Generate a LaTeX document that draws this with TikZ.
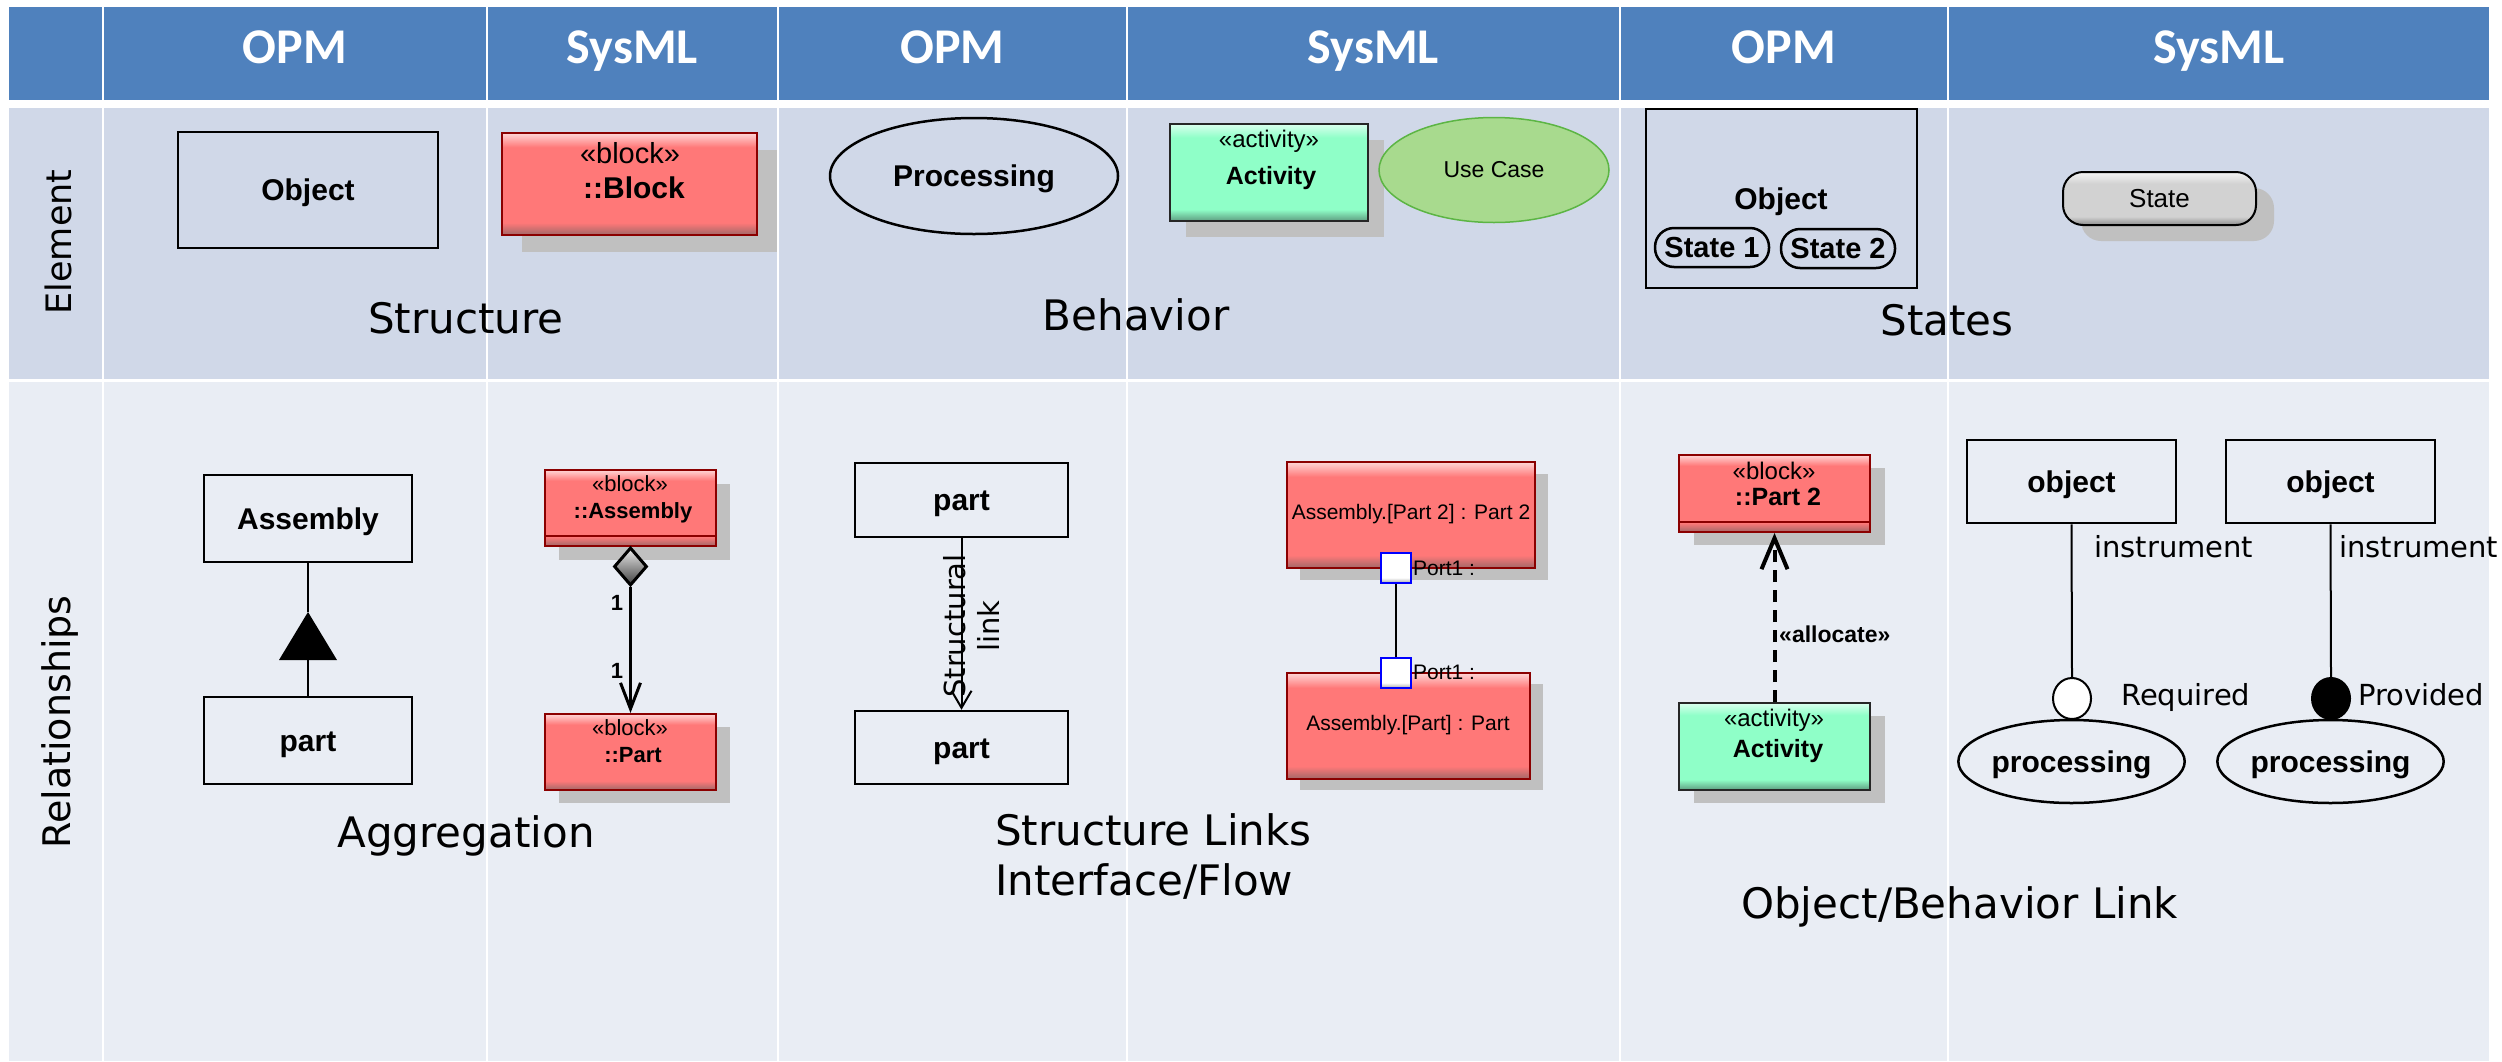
\documentclass[tikz,border=0pt]{standalone}
\usepackage{fontspec}
\setmainfont{Liberation Sans}
\newfontfamily\hdrfont{Carlito}
\newfontfamily\dvfont{DejaVu Sans}
\usetikzlibrary{shapes.geometric,arrows.meta,shadows}
\newcommand{\myfs}[1]{\fontsize{#1}{#1}\selectfont}

% table colours
\definecolor{hdrblue}{HTML}{4F81BD}
\definecolor{eltrow}{HTML}{D0D8E8}
\definecolor{relrow}{HTML}{E9EDF4}
% SysML element fills
\definecolor{rtop}{HTML}{FFD6D6}
\definecolor{rmid}{HTML}{FF7878}
\definecolor{rbot}{HTML}{A06868}
\definecolor{blkred}{HTML}{8B0000}
\definecolor{gtop}{HTML}{DAFFEE}
\definecolor{gmid}{HTML}{8FFFC8}
\definecolor{gbot}{HTML}{5E9C80}
\definecolor{sttop}{HTML}{F4F4F4}
\definecolor{stmid}{HTML}{D2D2D2}
\definecolor{stbot}{HTML}{8C8C8C}
\definecolor{ptop}{HTML}{FFFFFF}
\definecolor{pbot}{HTML}{A8A8A8}
\definecolor{shadowgray}{HTML}{C0C0C0}
\definecolor{ucfill}{HTML}{A8DA8E}
\definecolor{ucborder}{HTML}{5CB544}
\definecolor{portblue}{HTML}{0000FF}

% bevelled fills: the path box spans 25bp..75bp of each shading
\pgfdeclareverticalshading{redbevel}{100bp}{color(0bp)=(rbot); color(25bp)=(rbot); color(31bp)=(rmid); color(68bp)=(rmid); color(75bp)=(rtop); color(100bp)=(rtop)}
\pgfdeclareverticalshading{greenbevel}{100bp}{color(0bp)=(gbot); color(25bp)=(gbot); color(31bp)=(gmid); color(68bp)=(gmid); color(75bp)=(gtop); color(100bp)=(gtop)}
\pgfdeclareverticalshading{greybevel}{100bp}{color(0bp)=(stbot); color(25bp)=(stbot); color(33bp)=(stmid); color(64bp)=(stmid); color(75bp)=(sttop); color(100bp)=(sttop)}
\pgfdeclareverticalshading{portbevel}{100bp}{color(0bp)=(pbot); color(25bp)=(pbot); color(34bp)=(ptop); color(100bp)=(ptop)}

\begin{document}
\begin{tikzpicture}[x=1pt,y=-1pt,
  hdr/.style={font=\hdrfont\bfseries\myfs{50}, text=white, anchor=base, inner sep=0},
  rowlbl/.style={font=\dvfont\myfs{#1}, rotate=90, inner sep=0},
  seclbl/.style={font=\dvfont\myfs{42}, anchor=base, inner sep=0},
  smalllbl/.style={font=\dvfont\myfs{29}, anchor=base west, inner sep=0},
  opmbox/.style={draw, line width=2.5pt, inner sep=0, font=\bfseries\myfs{30}, text height=21.6pt, text depth=0pt},
  opmell/.style={ellipse, draw, line width=2.5pt, inner sep=0, font=\bfseries\myfs{30}, text height=21.6pt, text depth=0pt},
  opmpill/.style={draw, line width=2.5pt, rounded corners=19pt, inner sep=0, font=\bfseries\myfs{29}, text height=20.9pt, text depth=0pt},
  opmline/.style={line width=2.5pt},
  blkshade/.style 2 args={drop shadow={shadow xshift=#1pt, shadow yshift=-#2pt, fill=shadowgray, opacity=1}},
  redblk/.style={draw=blkred, line width=2pt, shade, shading=redbevel, inner sep=0},
  grnblk/.style={draw=black!85, line width=2pt, shade, shading=greenbevel, inner sep=0},
  stereo/.style={anchor=base, inner sep=0, font=\myfs{#1}},
  sysb/.style={anchor=base, inner sep=0, font=\bfseries\myfs{#1}},
  port/.style={draw=portblue, line width=2pt, shade, shading=portbevel, minimum size=30pt, inner sep=0},
]
\useasboundingbox (0,0) rectangle (2502,1061);
\fill[white] (0,0) rectangle (2502,1061);

% table cells
\foreach \a/\b in {9/102,104/486,488/777,779/1126,1128/1619,1621/1947,1949/2489}{
  \fill[hdrblue] (\a,7) rectangle (\b,100);
  \fill[eltrow] (\a,108) rectangle (\b,379);
  \fill[relrow] (\a,382) rectangle (\b,1061);
}

% column headings
\node[hdr] (h1) at (295,63) {OPM};
\node[hdr] (h2) at (632.5,63) {SysML};
\node[hdr] (h3) at (952.5,63) {OPM};
\node[hdr] (h4) at (1373.5,63) {SysML};
\node[hdr] (h5) at (1784,63) {OPM};
\node[hdr] (h6) at (2219,63) {SysML};

% row headings
\node[rowlbl=35] (rElt) at (58,242) {Element};
\node[rowlbl=38] (rRel) at (60,722) {Relationships};

% ---------- Element row ----------
\node[opmbox, minimum width=260pt, minimum height=116pt] (objE) at (308,190) {Object};

\node[redblk, blkshade={20}{17}, minimum width=255pt, minimum height=102pt] (blkE) at (629.5,184) {};
\node[stereo=29] (blkEst) at (630,163) {«block»};
\node[sysb=30] (blkEnm) at (634,198) {::Block};

\node[opmell, minimum width=288pt, minimum height=116pt] (procE) at (974,176) {Processing};

\node[grnblk, blkshade={16}{16}, minimum width=198pt, minimum height=97pt] (actE) at (1269,172.5) {};
\node[stereo=24] (actEst) at (1269,147) {«activity»};
\node[sysb=25] (actEnm) at (1271,184) {Activity};

\node[ellipse, draw=ucborder, fill=ucfill, line width=1.5pt, inner sep=0, minimum width=230pt, minimum height=105pt, font=\myfs{23}] (uc) at (1494,170) {Use Case};

\node[opmbox, minimum width=271pt, minimum height=179pt] (stObj) at (1781.5,198.5) {};
\node[sysb=30] (stObjNm) at (1781,209) {Object};
\node[opmpill, minimum width=114pt, minimum height=39pt] (st1) at (1712,247.5) {State 1};
\node[opmpill, minimum width=114pt, minimum height=39pt] (st2) at (1838,248.5) {State 2};

\node[draw=black, line width=2pt, rounded corners=20pt, shade, shading=greybevel, blkshade={18}{16}, inner sep=0, minimum width=193pt, minimum height=53pt, font=\myfs{26}, text height=18.7pt, text depth=0pt] (stS) at (2159.5,198.5) {State};

\node[seclbl] (lStruct) at (466,333) {Structure};
\node[seclbl] (lBeh) at (1136,330) {Behavior};
\node[seclbl] (lStates) at (1947,335) {States};

% ---------- Relationships row: aggregation ----------
\node[opmbox, minimum width=208pt, minimum height=87pt] (asm) at (308,518.5) {Assembly};
\node[opmbox, minimum width=208pt, minimum height=87pt] (partA) at (308,740.5) {part};
\coordinate (triApex) at (308,612);
\coordinate (triBase) at (308,660);
\fill (triApex) -- (279,660) -- (337,660) -- cycle;
\draw[opmline] (asm.south) -- (triApex);
\draw[opmline] (triBase) -- (partA.north);

\node[redblk, blkshade={14}{14}, minimum width=171pt, minimum height=76pt] (blkAsm) at (630.5,508) {};
\draw[blkred, line width=2pt] ([yshift=-28pt]blkAsm.west) -- ([yshift=-28pt]blkAsm.east);
\node[stereo=22] (blkAsmSt) at (630,491) {«block»};
\node[sysb=22] (blkAsmNm) at (633,518) {::Assembly};

\node[diamond, draw=black, line width=3pt, top color=gray!15, bottom color=black!75, inner sep=0, minimum width=33pt, minimum height=38pt, anchor=north] (dia) at (630.5,546) {};

\node[redblk, blkshade={14}{13}, minimum width=171pt, minimum height=76pt] (blkPart) at (630.5,752) {};
\node[stereo=22] (blkPartSt) at (630,735) {«block»};
\node[sysb=22] (blkPartNm) at (633,762) {::Part};

\draw[line width=3pt, -{Straight Barb[length=26pt, width=20pt]}] (dia.south) -- (blkPart.north);
\node[sysb=22] (m1) at (617,610) {1};
\node[sysb=22] (m2) at (617,678) {1};

\node[seclbl] (lAgg) at (466,847) {Aggregation};

% ---------- Relationships row: structure links ----------
\node[opmbox, minimum width=213pt, minimum height=74pt] (partS1) at (961.5,500) {part};
\node[opmbox, minimum width=213pt, minimum height=73pt] (partS2) at (961.5,747.5) {part};
\draw[line width=2pt, -{Straight Barb[length=17pt, width=20pt]}] (partS1.south) -- (partS2.north);
\node[rotate=90, align=center, inner sep=0, font=\dvfont\fontsize{29}{34}\selectfont] (slText) at (971,626) {Structural\\link};

\node[redblk, blkshade={13}{12}, minimum width=248pt, minimum height=106pt] (blkP2) at (1411,515) {};
\node[stereo=21] (blkP2Nm) at (1411,519) {Assembly.[Part 2] : Part 2};
\node[redblk, blkshade={13}{11}, minimum width=243pt, minimum height=106pt] (blkP) at (1408.5,726) {};
\node[stereo=21] (blkPNm) at (1408,730) {Assembly.[Part] : Part};
\node[port] (pA) at (1396,568) {};
\node[port] (pB) at (1396,673) {};
\draw[line width=2.5pt] (pA.south) -- (pB.north);
\node[anchor=base west, inner sep=0, font=\myfs{21}] (pAl) at (1413,575) {Port1 :};
\node[anchor=base west, inner sep=0, font=\myfs{21}] (pBl) at (1413,679) {Port1 :};

\node[seclbl, anchor=base west] (lSL) at (995,845) {Structure Links};
\node[seclbl, anchor=base west] (lIF) at (995,895) {Interface/Flow};

% ---------- Relationships row: object / behavior links ----------
\node[redblk, blkshade={15}{13}, minimum width=191pt, minimum height=77pt] (blkPt2) at (1774.5,493.5) {};
\draw[blkred, line width=2pt] ([yshift=-28.5pt]blkPt2.west) -- ([yshift=-28.5pt]blkPt2.east);
\node[stereo=24] (blkPt2St) at (1774,479) {«block»};
\node[sysb=25] (blkPt2Nm) at (1778,505) {::Part 2};

\node[grnblk, blkshade={15}{13}, minimum width=191pt, minimum height=87pt] (actR) at (1774.5,746.5) {};
\node[stereo=24] (actRSt) at (1774,726) {«activity»};
\node[sysb=25] (actRNm) at (1778,757.5) {Activity};

\draw[line width=4pt, dash pattern=on 12pt off 8pt, -{Straight Barb[length=31pt, width=26pt]}] (actR.north) -- (blkPt2.south);
\node[anchor=base west, inner sep=0, font=\bfseries\myfs{23}] (alloc) at (1779,642) {«allocate»};

\node[opmbox, minimum width=209pt, minimum height=83pt] (obj1) at (2071.5,481.5) {object};
\node[opmbox, minimum width=209pt, minimum height=83pt] (obj2) at (2330.5,481.5) {object};
\node[opmell, minimum width=209pt, minimum height=83pt] (proc1) at (2071.5,761.5) {processing};
\node[opmell, minimum width=209pt, minimum height=83pt] (proc2) at (2330.5,761.5) {processing};
\node[ellipse, draw, line width=2pt, fill=white, inner sep=0, minimum width=38pt, minimum height=41pt] (c1) at (2072,698.5) {};
\node[ellipse, draw, line width=2pt, fill=black, inner sep=0, minimum width=38pt, minimum height=41pt] (c2) at (2331,698.5) {};
\draw[line width=2pt] (obj1.south) -- (c1.north);
\draw[line width=2pt] (obj2.south) -- (c2.north);
\node[smalllbl] (ins1) at (2094,557) {instrument};
\node[smalllbl] (ins2) at (2339,557) {instrument};
\node[smalllbl] (req) at (2121,705) {Required};
\node[smalllbl] (prov) at (2358,705) {Provided};

\node[seclbl, anchor=base west] (lOB) at (1741,918) {Object/Behavior Link};
\end{tikzpicture}
\end{document}
